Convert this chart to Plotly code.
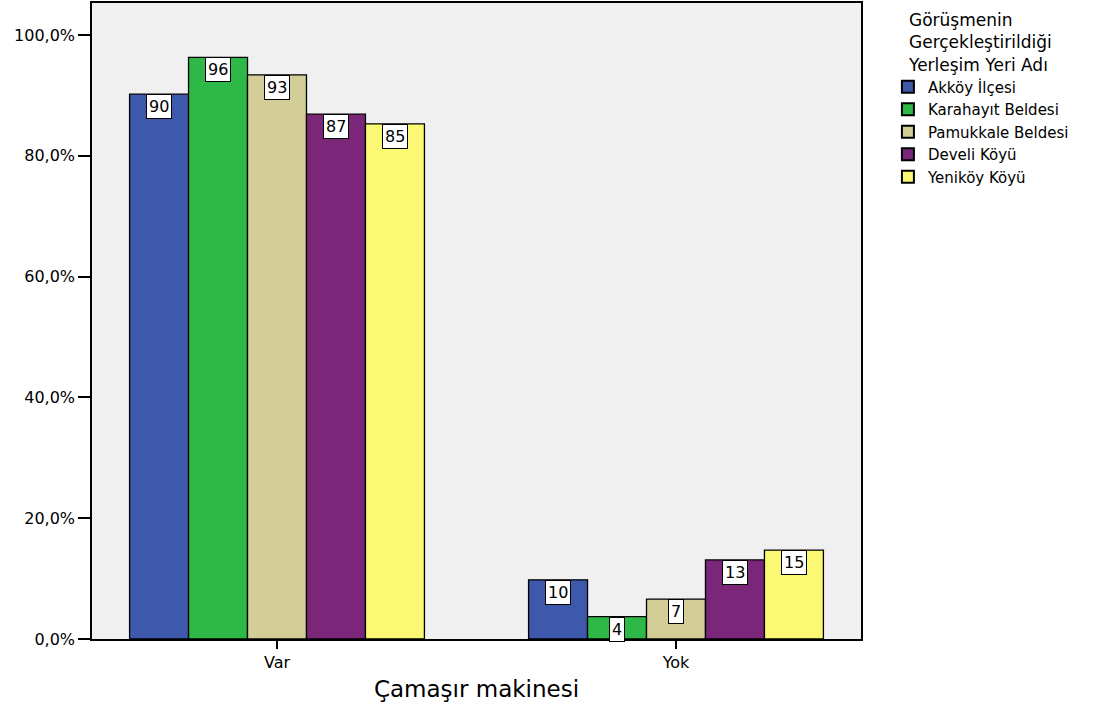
import plotly.graph_objects as go

categories = ["Var", "Yok"]
series_names = ["Akköy İlçesi", "Karahayıt Beldesi", "Pamukkale Beldesi", "Develi Köyü", "Yeniköy Köyü"]
values = {
    "Akköy İlçesi": [90.2, 9.8],
    "Karahayıt Beldesi": [96.3, 3.7],
    "Pamukkale Beldesi": [93.4, 6.6],
    "Develi Köyü": [86.9, 13.1],
    "Yeniköy Köyü": [85.3, 14.7],
}
colors = ["#3e58ac", "#2eb848", "#d3ce97", "#7b2779", "#fbf873"]
ytick_vals = [0, 20, 40, 60, 80, 100]
ytick_text = ["0,0%", "20,0%", "40,0%", "60,0%", "80,0%", "100,0%"]

FONT = "DejaVu Sans, Arial, sans-serif"
bargap = 0.261
n = len(series_names)
w = (1 - bargap) / n

fig = go.Figure()
for j, name in enumerate(series_names):
    fig.add_trace(go.Bar(
        name=name, x=categories, y=values[name],
        marker=dict(color=colors[j], line=dict(color="black", width=1.3)),
    ))
    for ci, v in enumerate(values[name]):
        fig.add_annotation(
            x=ci + (j - (n - 1) / 2) * w, y=v, xref="x", yref="y",
            text=str(int(v + 0.5)), showarrow=False, yanchor="top",
            font=dict(family=FONT, size=16, color="black"),
            bgcolor="white", bordercolor="black", borderwidth=1, borderpad=2,
        )

fig.update_layout(
    width=1110, height=706,
    barmode="group", bargap=bargap, bargroupgap=0,
    paper_bgcolor="white", plot_bgcolor="#f0f0f0",
    margin=dict(l=92, r=249, t=1, b=67),
    font=dict(family=FONT, size=16, color="black"),
    showlegend=True,
    legend=dict(
        x=1.035, y=0.998, xanchor="left", yanchor="top",
        title=dict(text="Görüşmenin<br>Gerçekleştirildiği<br>Yerleşim Yeri Adı",
                   side="top center", font=dict(family=FONT, size=17)),
        font=dict(family=FONT, size=15), itemsizing="constant",
        tracegroupgap=0, traceorder="normal",
    ),
)
fig.update_xaxes(
    type="category", range=[-0.4637, 1.4637],
    showline=True, linecolor="black", linewidth=1.5, mirror=True,
    ticks="outside", ticklen=8, tickwidth=1.5, tickcolor="black",
    tickfont=dict(family=FONT, size=16),
    title=dict(text="Çamaşır makinesi", font=dict(family=FONT, size=23), standoff=10),
    showgrid=False,
)
fig.update_yaxes(
    range=[0, 105.3],
    tickvals=ytick_vals, ticktext=ytick_text,
    showline=True, linecolor="black", linewidth=1.5, mirror=True,
    ticks="outside", ticklen=12, tickwidth=2, tickcolor="black",
    tickfont=dict(family=FONT, size=16),
    showgrid=False, zeroline=False,
)
fig.write_html("out.html", config={"displayModeBar": False},
               post_script="document.body.style.margin='0px';")
